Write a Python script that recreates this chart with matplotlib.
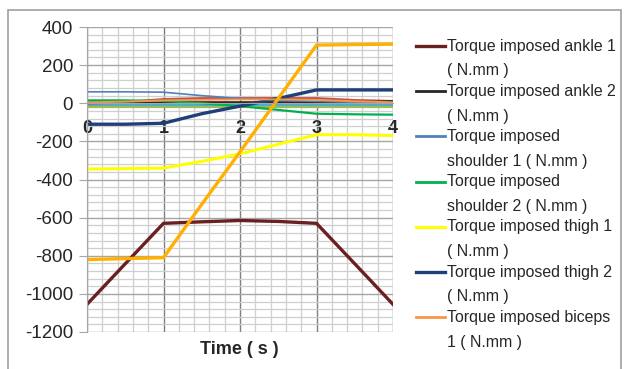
import numpy as np
import matplotlib
matplotlib.use('Agg')
import matplotlib.pyplot as plt
from matplotlib.lines import Line2D
from matplotlib.patches import Rectangle

# time samples (s)
t = [0, 0.5, 1, 1.5, 2, 2.5, 3, 3.5, 4]

# legend series
ankle1 = [-1055, -842, -630, -622, -615, -620, -630, -842, -1055]
ankle2 = [5, 5, 5, 5, 5, 5, 5, 5, 10]
shoulder1 = [60, 60, 58, 40, 25, 15, 10, 5, 0]
shoulder2 = [15, 15, 12, 0, -15, -35, -55, -58, -60]
thigh1 = [-345, -343, -340, -305, -265, -215, -165, -165, -170]
thigh2 = [-110, -110, -105, -55, -15, 25, 70, 70, 70]
biceps1 = [5, 8, 15, 18, 20, 20, 18, 10, 5]

# further series whose legend entries are cut off in the picture
extra_gold = [-820, -815, -810, -530, -255, 25, 305, 308, 310]
extra_red = [0, 5, 20, 25, 25, 25, 25, 15, 10]
extra_purple = [0, 0, 0, 0, 0, 0, 0, 0, 0]
extra_cyan = [-10, -10, -10, -10, -10, -10, -10, -10, -10]
extra_lime = [-20, -20, -20, -20, -20, -20, -20, -20, -20]

legend_labels = [
    ("Torque imposed ankle 1", "( N.mm )"),
    ("Torque imposed ankle 2", "( N.mm )"),
    ("Torque imposed", "shoulder 1 ( N.mm )"),
    ("Torque imposed", "shoulder 2 ( N.mm )"),
    ("Torque imposed thigh 1", "( N.mm )"),
    ("Torque imposed thigh 2", "( N.mm )"),
    ("Torque imposed biceps", "1 ( N.mm )"),
]
legend_series = [ankle1, ankle2, shoulder1, shoulder2, thigh1, thigh2, biceps1]
legend_colors = ['#6B2020', '#262626', '#4F81BD', '#00B050', '#FFFF00', '#1F3F78', '#F79646']
legend_widths = [2.4, 1.6, 1.2, 1.6, 2.2, 2.4, 1.4]

extra_series = [extra_lime, extra_cyan, extra_purple, extra_red, extra_gold]
extra_colors = ['#9BBB59', '#4BACC6', '#8064A2', '#C0504D', '#FFB000']
extra_widths = [1.6, 1.4, 1.4, 2.0, 2.4]

W, H = 627, 369
fig = plt.figure(figsize=(W / 100, H / 100), dpi=100)
fig.patch.set_facecolor('white')
fig.patches.append(Rectangle((8 / W, -0.1), 613 / W, 1 - 10 / H + 0.1,
                             transform=fig.transFigure, fill=False,
                             edgecolor='#A0A0A0', lw=1.2))

ax = fig.add_axes([87 / W, 1 - 332 / H, 306 / W, 305 / H])
ax.set_xlim(0, 4)
ax.set_ylim(-1200, 400)

ax.set_xticks(np.arange(0, 4.01, 1))
ax.set_xticks(np.arange(0, 4.01, 0.2), minor=True)
ax.set_yticks(np.arange(-1200, 401, 200))
ax.set_yticks(np.arange(-1200, 401, 40), minor=True)
ax.grid(which='minor', color='#CFCFCF', lw=0.9)
ax.grid(which='major', axis='y', color='#A6A6A6', lw=1.0)
ax.grid(which='major', axis='x', color='#7F7F7F', lw=1.0)
ax.set_axisbelow(True)

for s, c, w in zip(extra_series[:4], extra_colors[:4], extra_widths[:4]):
    ax.plot(t, s, color=c, lw=w, label='_nolegend_')
for s, c, w in zip(legend_series, legend_colors, legend_widths):
    ax.plot(t, s, color=c, lw=w)
ax.plot(t, extra_gold, color=extra_colors[4], lw=extra_widths[4], label='_nolegend_')

for side in ['top', 'right']:
    ax.spines[side].set_visible(False)
ax.spines['left'].set_color('#A6A6A6')
ax.spines['bottom'].set_position(('data', 0))
ax.spines['bottom'].set_color('#A6A6A6')
ax.tick_params(axis='y', which='major', length=6, color='#A6A6A6',
               labelsize=13.5, labelcolor='#262626', pad=4)
ax.tick_params(axis='x', which='major', length=0, labelsize=13, pad=12)
ax.tick_params(which='minor', length=0)
ax.set_yticklabels([str(v) for v in range(-1200, 401, 200)], fontfamily='Liberation Sans')
ax.set_xticklabels(['0', '1', '2', '3', '4'], fontweight='bold', fontfamily='Liberation Sans',
                   color='#262626')

fig.text(239 / W, 1 - 349 / H, 'Time ( s )', fontsize=13, fontweight='bold',
         fontfamily='Liberation Sans', ha='center', va='center', color='#262626')

# legend drawn by hand: handle sits on the first line of each wrapped label
y0, step, inner = 46, 45.2, 25
for i, ((l1, l2), c, w) in enumerate(zip(legend_labels, legend_colors, legend_widths)):
    yy = y0 + i * step
    fig.add_artist(Line2D([416 / W, 445 / W], [1 - yy / H] * 2, color=c,
                          lw=max(w, 2.0), transform=fig.transFigure))
    fig.text(447 / W, 1 - yy / H, l1, fontsize=11.4, fontfamily='Liberation Sans',
             ha='left', va='center', color='#262626')
    fig.text(447 / W, 1 - (yy + inner) / H, l2, fontsize=11.4, fontfamily='Liberation Sans',
             ha='left', va='center', color='#262626')

fig.savefig('out.png', dpi=100)
